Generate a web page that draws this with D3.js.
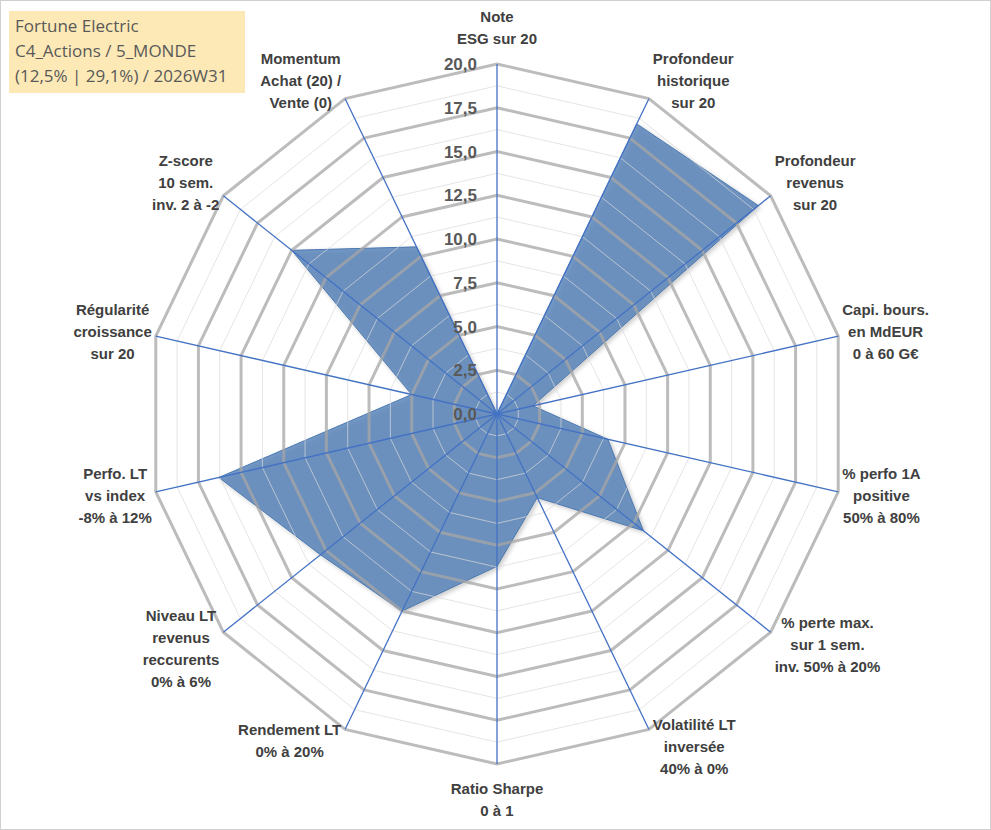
<!DOCTYPE html>
<html>
<head>
<meta charset="utf-8">
<script src="https://cdn.jsdelivr.net/npm/d3@7"></script>
<style>
  body { margin: 0; background: #fff; }
  text { font-family: "Liberation Sans", Arial, sans-serif; }
</style>
</head>
<body>
<svg id="chart" width="991" height="830"></svg>
<script>
// axes, clockwise from top
const categories = [
  ['Note', 'ESG sur 20'],
  ['Profondeur', 'historique', 'sur 20'],
  ['Profondeur', 'revenus', 'sur 20'],
  ['Capi. bours.', 'en MdEUR', '0 à 60 G€'],
  ['% perfo 1A', 'positive', '50% à 80%'],
  ['% perte max.', 'sur 1 sem.', 'inv. 50% à 20%'],
  ['Volatilité LT', 'inversée', '40% à 0%'],
  ['Ratio Sharpe', '0 à 1'],
  ['Rendement LT', '0% à 20%'],
  ['Niveau LT', 'revenus', 'reccurents', '0% à 6%'],
  ['Perfo. LT', 'vs index', '-8% à 12%'],
  ['Régularité', 'croissance', 'sur 20'],
  ['Z-score', '10 sem.', 'inv. 2 à -2'],
  ['Momentum', 'Achat (20) /', 'Vente (0)']
];
const values = [0, 18.4, 19.1, 2.1, 6.5, 10.7, 5.3, 8.7, 12.5, 12.9, 16.3, 5.0, 15.0, 10.6];
const tickValues = [0, 2.5, 5, 7.5, 10, 12.5, 15, 17.5, 20];
const minorTicks = [1.25, 3.75, 6.25, 8.75, 11.25, 13.75, 16.25, 18.75];
const titleLines = ['Fortune Electric', 'C4_Actions / 5_MONDE', '(12,5% | 29,1%) / 2026W31'];

const svg = d3.select('#chart');
const cx = 497, cy = 414, R = 350;
const n = categories.length;
const r = d3.scaleLinear().domain([0, 20]).range([0, R]);
const ang = i => i * 2 * Math.PI / n;
const pt = (i, v) => [cx + r(v) * Math.sin(ang(i)), cy - r(v) * Math.cos(ang(i))];

svg.append('rect').attr('x', 0.5).attr('y', 0.5).attr('width', 990).attr('height', 829)
  .attr('fill', '#fff').attr('stroke', '#d0d0d0');

const ring = v => d3.range(n).map(i => pt(i, v));
const line = d3.line().curve(d3.curveLinearClosed);

// series (drawn under the grid, semi transparent)
svg.append('path')
  .attr('d', line(values.map((v, i) => pt(i, v))))
  .attr('fill', '#4f7fb8').attr('fill-opacity', 0.78)
  .attr('stroke', '#4a78b0').attr('stroke-width', 1)
  .style('filter', 'drop-shadow(2px 2px 2px rgba(0,0,0,0.25))');

svg.selectAll('.minor').data(minorTicks).join('path')
  .attr('d', v => line(ring(v)))
  .attr('fill', 'none').attr('stroke', '#d9d9d9').attr('stroke-width', 1).attr('stroke-opacity', 0.7);

svg.selectAll('.major').data(tickValues.slice(1)).join('path')
  .attr('d', v => line(ring(v)))
  .attr('fill', 'none').attr('stroke', '#a6a6a6').attr('stroke-width', 3).attr('stroke-opacity', 0.75);

svg.selectAll('.spoke').data(categories).join('line')
  .attr('x1', cx).attr('y1', cy)
  .attr('x2', (d, i) => pt(i, 20)[0]).attr('y2', (d, i) => pt(i, 20)[1])
  .attr('stroke', '#4472c4').attr('stroke-width', 1.3);

svg.selectAll('.tick').data(tickValues).join('text')
  .attr('x', cx - 20).attr('y', v => cy - r(v) + 6)
  .attr('text-anchor', 'end').attr('font-size', 17).attr('font-weight', 'bold')
  .attr('fill', '#595959')
  .text(v => d3.format('.1f')(v).replace('.', ','));

// axis labels
const lh = 22;
categories.forEach((lines, i) => {
  const a = ang(i), s = Math.sin(a), c = Math.cos(a);
  const [vx, vy] = pt(i, 20);
  const g = svg.append('g');
  const t = g.selectAll('text').data(lines).join('text')
    .attr('text-anchor', 'middle').attr('font-size', 15).attr('font-weight', 'bold')
    .attr('fill', '#404040')
    .attr('y', (d, k) => (k - (lines.length - 1) / 2) * lh + 5)
    .text(d => d);
  const w = d3.max(t.nodes(), nd => nd.getComputedTextLength());
  const h = lines.length * lh;
  let dx, dy;
  if (Math.abs(s) < 0.3) { dx = 0; dy = -c * (h / 2 + 14); }
  else { dx = Math.sign(s) * (w / 2 + 4); dy = -c * h * 0.3; }
  g.attr('transform', `translate(${vx + dx},${vy + dy})`);
});

// title box
const tb = svg.append('g').attr('transform', 'translate(9,11)');
tb.append('rect').attr('width', 236).attr('height', 82).attr('fill', '#fde9b6');
tb.selectAll('text').data(titleLines).join('text')
  .attr('x', 6).attr('y', (d, k) => 21 + k * 25)
  .attr('font-size', 17).attr('fill', '#595959')
  .style('font-family', '"Open Sans", sans-serif')
  .text(d => d);
</script>
</body>
</html>
